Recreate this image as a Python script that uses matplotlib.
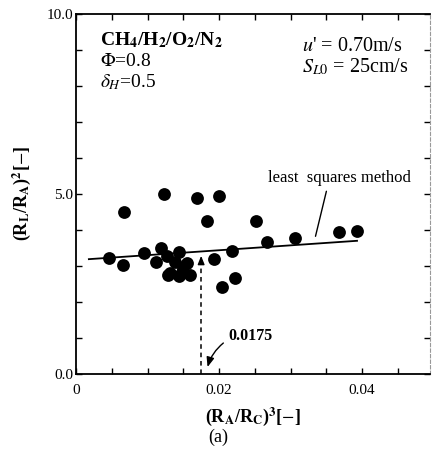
import matplotlib
matplotlib.use("Agg")
import matplotlib.pyplot as plt
from matplotlib.ticker import MultipleLocator

plt.rcParams['font.family'] = ['Liberation Serif', 'DejaVu Serif']
plt.rcParams['mathtext.fontset'] = 'stix'

# data: x = (RA/RC)^3, y = (RL/RA)^2
x_vals = [0.00466, 0.00662, 0.00671, 0.0095, 0.01114, 0.01189, 0.01231, 0.01277,
          0.01385, 0.01445, 0.01548, 0.01315, 0.01478, 0.01594, 0.01291, 0.01441,
          0.01492, 0.01697, 0.01828, 0.01926, 0.0200, 0.02038, 0.02177, 0.02224,
          0.02522, 0.02667, 0.03063, 0.03674, 0.03934]
y_vals = [3.23, 3.03, 4.49, 3.35, 3.12, 3.51, 5.01, 3.28,
          3.12, 3.40, 3.07, 2.80, 2.83, 2.76, 2.74, 2.72,
          2.98, 4.88, 4.26, 3.20, 4.94, 2.43, 3.43, 2.67,
          4.26, 3.67, 3.77, 3.95, 3.96]

fit_x = [0.0018, 0.0393]
fit_y = [3.19, 3.70]

x_mark = 0.0175
y_mark_top = 3.36

xticks = [0, 0.02, 0.04]
xticklabels = ['0', '0.02', '0.04']
yticks = [0.0, 5.0, 10.0]
yticklabels = ['0.0', '5.0', '10.0']

fig = plt.figure(figsize=(4.33, 4.57), dpi=100)
ax = fig.add_axes([0.1755, 0.1816, 0.8175, 0.7878])

ax.plot(fit_x, fit_y, color='black', lw=1.3, zorder=2)
ax.scatter(x_vals, y_vals, s=85, color='black', zorder=3, linewidths=0)

# vertical dashed arrow
ax.plot([x_mark, x_mark], [0, y_mark_top - 0.25], color='black', lw=1.1,
        ls=(0, (3, 2.5)), zorder=2)
ax.annotate('', xy=(x_mark, y_mark_top), xytext=(x_mark, y_mark_top - 0.3),
            arrowprops=dict(arrowstyle='-|>,head_length=0.5,head_width=0.2',
                            color='black', lw=1.0))

ax.annotate('0.0175', xy=(x_mark + 0.0008, 0.12), xytext=(x_mark + 0.0038, 1.05),
            fontsize=11.5, fontweight='bold', ha='left', va='center',
            arrowprops=dict(arrowstyle='-|>,head_length=0.5,head_width=0.2',
                            color='black', lw=1.0, relpos=(0.0, 0.3),
                            connectionstyle='arc3,rad=0.2'))

ax.annotate('least  squares method', xy=(0.0334, 3.75), xytext=(0.0368, 5.45),
            fontsize=12, ha='center', va='center',
            arrowprops=dict(arrowstyle='-', color='black', lw=1.0,
                            relpos=(0.42, 0.0)))

ax.text(0.0034, 9.28, r'CH$_\mathbf{4}$/H$_\mathbf{2}$/O$_\mathbf{2}$/N$_\mathbf{2}$',
        fontsize=14, fontweight='bold', ha='left', va='center')
ax.text(0.0034, 8.68, r'$\Phi$=0.8', fontsize=14, ha='left', va='center')
ax.text(0.0034, 8.1, r'$\delta_H$=0.5', fontsize=14, ha='left', va='center')
ax.text(0.0316, 9.1, r"$u$' = 0.70m/s", fontsize=14.5, ha='left', va='center')
ax.text(0.0316, 8.52, r"$S_{L0}$ = 25cm/s", fontsize=14.5, ha='left', va='center')

ax.set_xlim(0, 0.0495)
ax.set_ylim(0, 10.0)
ax.set_xticks(xticks)
ax.set_xticklabels(xticklabels, fontsize=11)
ax.set_yticks(yticks)
ax.set_yticklabels(yticklabels, fontsize=11)
ax.xaxis.set_minor_locator(MultipleLocator(0.005))
ax.yaxis.set_minor_locator(MultipleLocator(1.0))
ax.tick_params(which='both', direction='in', top=True, right=True)
ax.tick_params(axis='x', which='both', pad=7)
ax.tick_params(axis='y', which='both', pad=2)
ax.tick_params(which='major', length=4, width=1)
ax.tick_params(which='minor', length=4, width=1)

for s in ['left', 'bottom', 'top']:
    ax.spines[s].set_linewidth(1.3)
ax.spines['right'].set_color('#999999')
ax.spines['right'].set_linestyle((0, (3, 2)))
ax.spines['right'].set_linewidth(0.8)

ax.set_xlabel(r'(R$_\mathbf{A}$/R$_\mathbf{C}$)$^\mathbf{3}$[$-$]', fontsize=13,
              fontweight='bold', labelpad=6)
ax.set_ylabel(r'(R$_\mathbf{L}$/R$_\mathbf{A}$)$^\mathbf{2}$[$-$]', fontsize=13,
              fontweight='bold', labelpad=10)
fig.text(0.503, 0.043, '(a)', fontsize=13, ha='center', va='center')

fig.savefig('out.png', dpi=100)
